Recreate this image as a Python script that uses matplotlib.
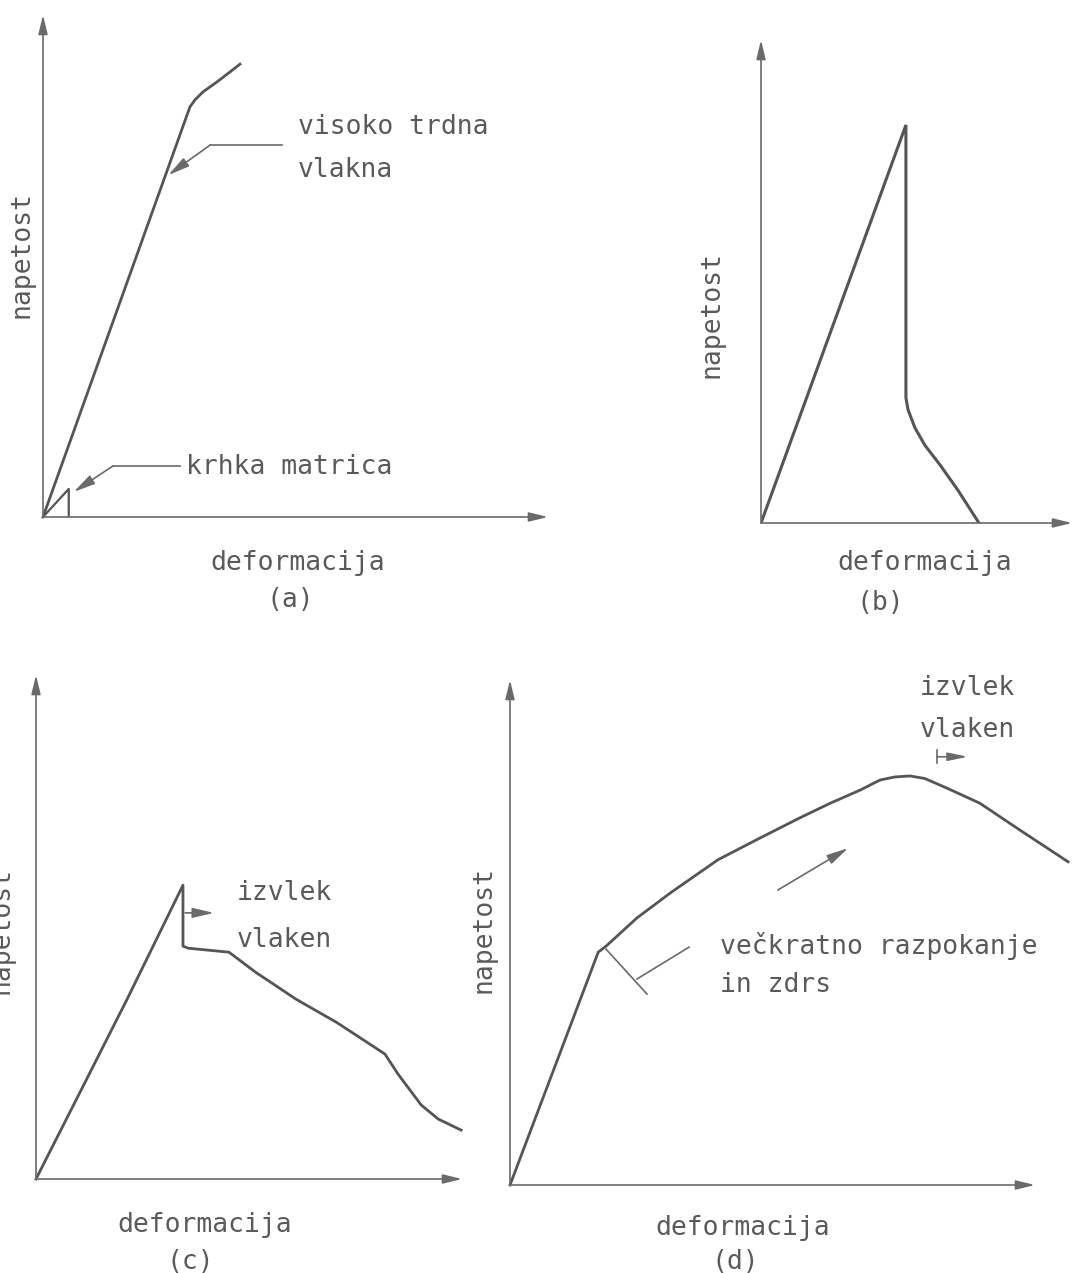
import matplotlib.pyplot as plt

# ---- data (strain / stress in arbitrary units, 0..10 along each axis) ----
# (a) high-strength fibres and brittle matrix
fibre_a_strain = [0, 2.91, 3.01, 3.17, 3.45, 3.90]
fibre_a_stress = [0, 8.17, 8.31, 8.47, 8.67, 9.02]
matrix_a_strain = [0, 0.51, 0.51]
matrix_a_stress = [0, 0.56, 0.0]

# (b) brittle composite
b_strain = [0, 4.66, 4.66, 4.73, 4.95, 5.27, 5.76, 6.33, 7.01]
b_stress = [0, 8.24, 2.59, 2.34, 1.97, 1.61, 1.20, 0.68, 0.0]

# (c) fibre pull-out after first crack
c_strain = [0, 1.20, 2.14, 3.45, 3.45, 3.57, 4.53, 5.16, 6.10, 7.07, 8.19, 8.50, 9.04, 9.44, 9.98]
c_stress = [0, 2.00, 3.57, 5.83, 4.62, 4.58, 4.50, 4.10, 3.57, 3.10, 2.48, 2.08, 1.47, 1.19, 0.97]

# (d) multiple cracking and slip, then pull-out
d_strain = [0, 1.68, 1.83, 2.42, 3.05, 3.96, 4.76, 5.52, 6.10, 6.67, 7.05, 7.33, 7.62,
            7.90, 8.32, 8.95, 9.71, 10.63]
d_stress = [0, 4.61, 4.73, 5.29, 5.78, 6.44, 6.87, 7.27, 7.56, 7.82, 8.02, 8.08, 8.10,
            8.05, 7.86, 7.56, 7.03, 6.40]

x_label = "deformacija"
y_label = "napetost"
panel_tags = ["(a)", "(b)", "(c)", "(d)"]

W, H = 1074, 1273
LINE_C = "#555555"
AXIS_C = "#6a6a6a"
TEXT_C = "#5a5a5a"
FONT = dict(family=["DejaVu Sans Mono"], size=19, color=TEXT_C)

fig = plt.figure(figsize=(W / 100, H / 100), dpi=100)


def make_panel(left, bottom, right, top):
    # positions given in pixels of the final image
    ax = fig.add_axes([left / W, 1 - bottom / H, (right - left) / W, (bottom - top) / H])
    ax.set_xlim(0, 10)
    ax.set_ylim(0, 10)
    ax.axis("off")
    head = "-|>,head_length=1.15,head_width=0.28"
    for tip in [(10, 0), (0, 10)]:
        ax.annotate("", xy=tip, xytext=(0, 0),
                    arrowprops=dict(arrowstyle=head, color=AXIS_C, lw=1.2,
                                    shrinkA=0, shrinkB=0))
    return ax


def leader(ax, pts, arrow=True):
    # polyline ending in an arrow at pts[0]
    xs = [p[0] for p in pts]
    ys = [p[1] for p in pts]
    ax.plot(xs[1:], ys[1:], color=AXIS_C, lw=1.2, clip_on=False)
    if arrow:
        ax.annotate("", xy=pts[0], xytext=pts[1],
                    arrowprops=dict(arrowstyle="-|>,head_length=1.3,head_width=0.3",
                                    color=AXIS_C, lw=1.2, shrinkA=0, shrinkB=0))


def labels(ax, xl, yl, tag):
    ax.text(xl[0], xl[1], x_label, ha="center", va="center", **FONT)
    ax.text(tag[0], tag[1], tag[2], ha="center", va="center", **FONT)
    ax.text(yl[0], yl[1], y_label, ha="center", va="center", rotation=90, **FONT)


# ---- (a) ----
ax_a = make_panel(43, 517, 548, 15)
ax_a.plot(fibre_a_strain, fibre_a_stress, color=LINE_C, lw=2.0, clip_on=False)
ax_a.plot(matrix_a_strain, matrix_a_stress, color=LINE_C, lw=1.6)
leader(ax_a, [(2.48, 6.81), (3.31, 7.41), (4.73, 7.41)])
leader(ax_a, [(0.61, 0.50), (1.39, 1.02), (2.71, 1.02)])
ax_a.text(5.05, 7.77, "visoko trdna", ha="left", va="center", **FONT)
ax_a.text(5.05, 6.91, "vlakna", ha="left", va="center", **FONT)
ax_a.text(2.83, 1.00, "krhka matrica", ha="left", va="center", **FONT)
labels(ax_a, (5.05, -0.92), (-0.42, 5.22), (4.89, -1.65, panel_tags[0]))

# ---- (b) ----
ax_b = make_panel(761, 523, 1072, 40)
ax_b.plot(b_strain, b_stress, color=LINE_C, lw=2.2, solid_joinstyle="miter")
labels(ax_b, (5.27, -0.83), (-1.58, 4.31), (3.83, -1.66, panel_tags[1]))

# ---- (c) ----
ax_c = make_panel(36, 1179, 462, 675)
ax_c.plot(c_strain, c_stress, color=LINE_C, lw=2.0, clip_on=False)
ax_c.annotate("", xy=(4.18, 5.28), xytext=(3.50, 5.28),
              arrowprops=dict(arrowstyle="-|>,head_length=1.3,head_width=0.3",
                              color=AXIS_C, lw=1.2, shrinkA=0, shrinkB=0))
ax_c.text(4.72, 5.67, "izvlek", ha="left", va="center", **FONT)
ax_c.text(4.72, 4.74, "vlaken", ha="left", va="center", **FONT)
labels(ax_c, (3.97, -0.91), (-0.80, 4.94), (3.62, -1.65, panel_tags[2]))

# ---- (d) ----
ax_d = make_panel(510, 1185, 1035, 680)
ax_d.plot(d_strain, d_stress, color=LINE_C, lw=2.0, clip_on=False)
ax_d.plot([1.83, 2.61], [4.67, 3.78], color=AXIS_C, lw=1.2)
ax_d.plot([2.42, 3.41], [4.08, 4.71], color=AXIS_C, lw=1.2)
ax_d.annotate("", xy=(6.44, 6.67), xytext=(5.10, 5.84),
              arrowprops=dict(arrowstyle="-|>,head_length=1.3,head_width=0.3",
                              color=AXIS_C, lw=1.2, shrinkA=0, shrinkB=0))
ax_d.plot([8.13, 8.13], [8.62, 8.35], color=AXIS_C, lw=1.2)
ax_d.annotate("", xy=(8.72, 8.48), xytext=(8.13, 8.48),
              arrowprops=dict(arrowstyle="-|>,head_length=1.2,head_width=0.25",
                              color=AXIS_C, lw=1.2, shrinkA=0, shrinkB=0))
ax_d.text(4.0, 4.73, "večkratno razpokanje", ha="left", va="center", **FONT)
ax_d.text(4.0, 3.96, "in zdrs", ha="left", va="center", **FONT)
ax_d.text(7.81, 9.84, "izvlek", ha="left", va="center", **FONT)
ax_d.text(7.81, 9.01, "vlaken", ha="left", va="center", **FONT)
labels(ax_d, (4.44, -0.85), (-0.50, 5.05), (4.29, -1.52, panel_tags[3]))

fig.savefig("out.png", dpi=100)
